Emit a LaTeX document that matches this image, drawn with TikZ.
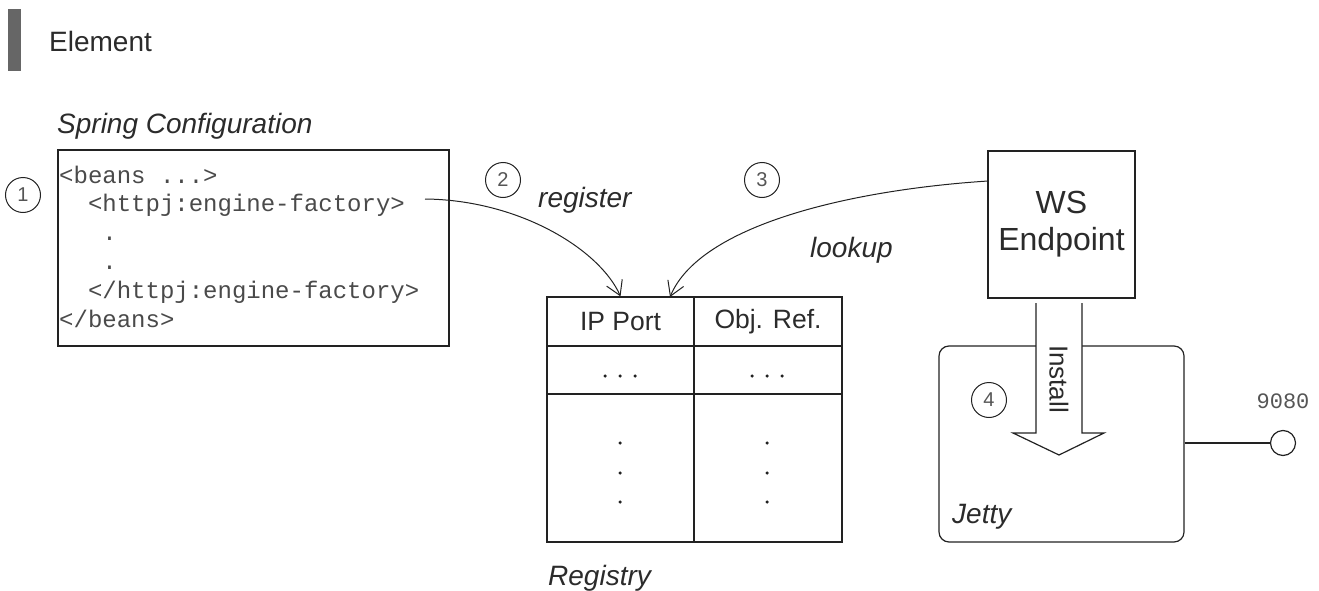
\documentclass[tikz,border=0pt]{standalone}
\usepackage{fontspec}
\setmainfont{Liberation Sans}
\newfontfamily\codefont{Liberation Mono}
\usetikzlibrary{arrows.meta}
\definecolor{ink}{HTML}{222222}
\definecolor{txt}{HTML}{2B2B2B}
\definecolor{codec}{HTML}{4A4A4A}
\definecolor{numc}{HTML}{555555}
\definecolor{barc}{HTML}{666666}
\begin{document}
\begin{tikzpicture}[x=1pt,y=-1pt,
  box/.style={draw=ink, line width=1.2pt, inner sep=0pt, rectangle},
  lbl/.style={font=\fontsize{28}{32}\selectfont\itshape, text=txt, inner sep=0pt, anchor=base west},
  numcirc/.style={circle, draw=ink, line width=1pt, minimum size=35pt, inner sep=0pt, text=numc, font=\fontsize{20}{22}\selectfont},
  codeline/.style={font=\codefont\fontsize{24}{28}\selectfont, text=codec, inner sep=0pt, anchor=base west},
  cell/.style={box, text=txt, font=\fontsize{26.5}{30}\selectfont},
  conn/.style={draw=ink, line width=1pt, -{Straight Barb[length=14pt,width=17pt]}},
  dotm/.style={fill=ink, circle, inner sep=0pt, minimum size=3.5pt}
]
\useasboundingbox (0,0) rectangle (1319,591);
% title
\fill[barc] (8,9) rectangle (21,71);
\node[anchor=base west, inner sep=0pt, font=\fontsize{28}{32}\selectfont, text=txt] (title) at (49,52) {Element};
% spring configuration
\node[lbl] (springlbl) at (57,133) {Spring Configuration};
\node[box, minimum width=391pt, minimum height=196pt] (spring) at (253.5,248) {};
\node[codeline] (c1) at (59,183) {<beans ...>};
\node[codeline] (c2) at (59,211.8) {\ \ <httpj:engine-factory>};
\node[codeline] (c3) at (59,240.6) {\ \ \ .};
\node[codeline] (c4) at (59,269.4) {\ \ \ .};
\node[codeline] (c5) at (59,298.2) {\ \ </httpj:engine-factory>};
\node[codeline] (c6) at (59,327) {</beans>};
% step circles
\node[numcirc] (n1) at (23,195) {1};
\node[numcirc] (n2) at (503,180) {2};
\node[numcirc] (n3) at (762,180) {3};
% registry table
\node[cell, minimum width=147pt, minimum height=49pt] (ipport) at (620.5,321.5) {IP Port};
\node[cell, minimum width=148pt, minimum height=49pt] (objref) at (768,321.5) {Obj. Ref.};
\node[box, minimum width=147pt, minimum height=48pt] (rowa) at (620.5,370) {};
\node[box, minimum width=148pt, minimum height=48pt] (rowb) at (768,370) {};
\node[box, minimum width=147pt, minimum height=148pt] (bodya) at (620.5,468) {};
\node[box, minimum width=148pt, minimum height=148pt] (bodyb) at (768,468) {};
\foreach \i/\x in {1/605,2/620,3/635} \node[dotm] (ha\i) at (\x,376) {};
\foreach \i/\x in {1/752,2/767,3/782} \node[dotm] (hb\i) at (\x,376) {};
\foreach \i/\y in {1/443,2/473,3/502} {
  \node[dotm] (va\i) at (620,\y) {};
  \node[dotm] (vb\i) at (767,\y) {};
}
\node[lbl] (reglbl) at (548,585) {Registry};
% labels on connectors
\node[lbl] (registerlbl) at (538,207) {register};
\node[lbl] (lookuplbl) at (810,257) {lookup};
% WS endpoint
\node[box, minimum width=147pt, minimum height=147pt, align=center, font=\fontsize{32}{37}\selectfont, text=txt] (ws) at (1061.5,224.5) {WS\\Endpoint};
% Jetty
\node[box, rounded corners=10pt, minimum width=245pt, minimum height=196pt] (jetty) at (1061.5,444) {};
\node[lbl] (jettylbl) at (952,523) {Jetty};
\node[numcirc] (n4) at (989,400) {4};
% install arrow
\fill[white] (1036,303) -- (1036,433) -- (1013,433) -- (1059,455) -- (1104,433) -- (1082,433) -- (1082,303) -- cycle;
\draw[ink, line width=1.2pt, line join=miter] (1036,303) -- (1036,433) -- (1013,433) -- (1059,455) -- (1104,433) -- (1082,433) -- (1082,303);
\node[rotate=-90, font=\fontsize{26}{30}\selectfont, text=txt, inner sep=0pt] (install) at (1059,379) {Install};
% port
\node[circle, draw=ink, line width=1.2pt, minimum size=25pt, inner sep=0pt, fill=white] (port) at (1283,443) {};
\draw[ink, line width=2.5pt] (jetty.east |- port.west) -- (port.west);
\node[font=\codefont\fontsize{22}{24}\selectfont, text=numc, inner sep=0pt] (portlbl) at (1283,401) {9080};
% connectors
\coordinate (regstart) at (425,199);
\coordinate (lkstart) at (988,181);
\coordinate (lkend) at (670,297);
\draw[conn] (regstart) .. controls (520,200) and (600,250) .. (ipport.north);
\draw[conn] (lkstart) .. controls (850,190) and (700,225) .. (lkend);
\end{tikzpicture}
\end{document}
